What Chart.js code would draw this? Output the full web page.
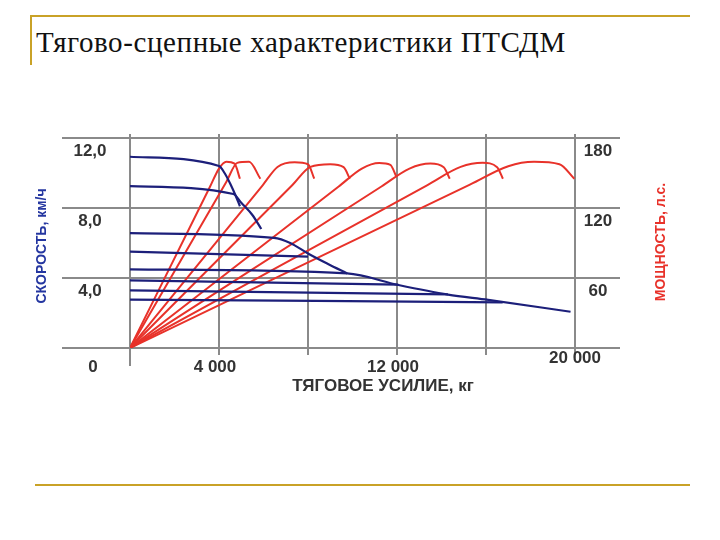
<!DOCTYPE html>
<html><head><meta charset="utf-8">
<script src="https://cdn.jsdelivr.net/npm/chart.js@4/dist/chart.umd.min.js"></script>
<style>
body{margin:0;background:#fff;width:720px;height:540px;position:relative;overflow:hidden}
#t{position:absolute;left:36px;top:26px;font:29px "Liberation Serif",serif;color:#111;letter-spacing:0.6px}
.ln{position:absolute;background:#c9a227}
canvas{position:absolute;left:0;top:0}
</style></head><body>
<div class="ln" style="left:30px;top:15px;width:660px;height:2px"></div>
<div class="ln" style="left:30px;top:15px;width:2px;height:50px"></div>
<div class="ln" style="left:35px;top:484px;width:655px;height:2px"></div>
<div id="t">Тягово-сцепные характеристики ПТСДМ</div>
<canvas id="c" width="720" height="540"></canvas>
<script>
// speed (km/h) vs traction force (kg), per gear
const speedCurves = [
  [[0,10.93],[4000,10.4],[4250,10.0],[4500,9.4],[4750,8.7],[4940,8.1]],
  [[0,9.25],[4650,8.8],[5000,8.3],[5500,7.6],[5900,6.8]],
  [[0,6.56],[6470,6.29],[7200,6.0],[8000,5.4],[8900,4.8],[9760,4.26]],
  [[0,5.51],[8000,5.22]],
  [[0,4.49],[9760,4.26],[12060,3.6],[14290,3.05],[16100,2.75],[19800,2.07]],
  [[0,3.87],[12060,3.62]],
  [[0,3.29],[14290,3.06]],
  [[0,2.77],[16750,2.61]]
];
// power (hp) vs traction force (kg), per gear
const powerCurves = [
  [[0,0],[3600,138.4],[4000,153.8],[4330,159.6],[4700,158],[4940,145.1]],
  [[0,0],[4340,142.8],[4820,158.7],[5350,159.6],[5860,145.1]],
  [[0,0],[5970,139.7],[6630,155.2],[7400,159.2],[8000,157.5],[8280,145.1]],
  [[0,0],[7300,139.7],[8110,155.2],[9000,157.5],[9600,155],[9880,145.1]],
  [[0,0],[9380,138.4],[10420,153.8],[11200,158.5],[11700,157],[11980,146.5]],
  [[0,0],[11300,138.4],[12560,153.8],[13500,158.1],[14100,155],[14370,145.1]],
  [[0,0],[13370,139.7],[14860,155.2],[15850,158.7],[16500,155],[16760,145.1]],
  [[0,0],[15300,140.2],[17000,155.8],[18160,159.6],[19300,157.5],[19970,145.1]]
];
const xTicks = [0,4000,12000,20000];
const xTickText = ['0','4 000','12 000','20 000'];
const yTicks = [4,8,12];
const yTickText = ['4,0','8,0','12,0'];
const pTickText = ['60','120','180'];

const ds = [];
speedCurves.forEach(c => ds.push({data:c.map(p=>({x:p[0],y:p[1]})),yAxisID:'y',borderColor:'#1c1f7a',borderWidth:2.2,pointRadius:0,showLine:true,cubicInterpolationMode:'monotone'}));
powerCurves.forEach(c => ds.push({data:c.map(p=>({x:p[0],y:p[1]})),yAxisID:'p',borderColor:'#e8322a',borderWidth:2,pointRadius:0,showLine:true,cubicInterpolationMode:'monotone'}));

const deco = {
  id:'deco',
  beforeDatasetsDraw(ch){
    const g=ch.ctx, x=ch.scales.x, y=ch.scales.y, a=ch.chartArea;
    g.save(); g.strokeStyle='#8a8a8a'; g.lineWidth=2;
    [0,4,8,12].forEach(v=>{const py=y.getPixelForValue(v);g.beginPath();g.moveTo(62,py);g.lineTo(620,py);g.stroke();});
    [0,4000,8000,12000,16000,20000].forEach(v=>{const px=x.getPixelForValue(v);g.beginPath();g.moveTo(px,a.top-4);g.lineTo(px,v===0?366:355);g.stroke();});
    g.restore();
  },
  afterDraw(ch){
    const g=ch.ctx, x=ch.scales.x, y=ch.scales.y;
    g.save(); g.fillStyle='#333'; g.font='bold 17px "Liberation Sans",Arial';
    g.textAlign='center'; g.textBaseline='middle';
    yTicks.forEach((v,i)=>{const py=y.getPixelForValue(v)+13;g.fillText(yTickText[i],90,py);g.fillText(pTickText[i],598,py);});
    xTicks.forEach((v,i)=>{const px=v===0?93:x.getPixelForValue(v)-(v===20000?0:4);g.fillText(xTickText[i],px,v===20000?358:367);});
    g.fillText('ТЯГОВОЕ УСИЛИЕ, кг',383,386);
    g.font='bold 14px "Liberation Sans",Arial';
    g.fillStyle='#2436a0'; g.translate(42,246); g.rotate(-Math.PI/2); g.fillText('СКОРОСТЬ, км/ч',0,0);
    g.setTransform(1,0,0,1,0,0);
    g.fillStyle='#e8322a'; g.translate(661,242); g.rotate(-Math.PI/2); g.fillText('МОЩНОСТЬ, л.с.',0,0);
    g.restore();
  }
};

new Chart(document.getElementById('c'),{
  type:'scatter',
  data:{datasets:ds},
  options:{
    responsive:false,animation:false,
    layout:{padding:{left:122,right:145,top:138,bottom:184}},
    plugins:{legend:{display:false},tooltip:{enabled:false}},
    scales:{
      x:{type:'linear',min:0,max:20000,ticks:{display:false},grid:{display:false},border:{display:false}},
      y:{min:0,max:12,ticks:{display:false},grid:{display:false},border:{display:false}},
      p:{position:'right',min:0,max:180,display:false}
    }
  },
  plugins:[deco]
});
</script>
</body></html>
